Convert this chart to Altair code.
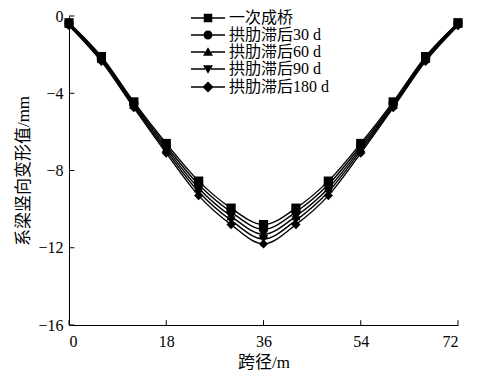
import altair as alt
import pandas as pd

span = [0, 6, 12, 18, 24, 30, 36, 42, 48, 54, 60, 66, 72]
names = ["一次成桥", "拱肋滞后30 d", "拱肋滞后60 d", "拱肋滞后90 d", "拱肋滞后180 d"]
s_once = [-0.35, -2.10, -4.45, -6.60, -8.55, -9.95, -10.80, -9.95, -8.55, -6.60, -4.45, -2.10, -0.35]
s_30 = [-0.38, -2.16, -4.52, -6.72, -8.73, -10.15, -11.05, -10.15, -8.73, -6.72, -4.52, -2.16, -0.38]
s_60 = [-0.42, -2.22, -4.60, -6.85, -8.92, -10.37, -11.30, -10.37, -8.92, -6.85, -4.60, -2.22, -0.42]
s_90 = [-0.46, -2.28, -4.68, -6.97, -9.10, -10.58, -11.55, -10.58, -9.10, -6.97, -4.68, -2.28, -0.46]
s_180 = [-0.50, -2.35, -4.75, -7.10, -9.30, -10.80, -11.80, -10.80, -9.30, -7.10, -4.75, -2.35, -0.50]
x_ticks = [0, 18, 36, 54, 72]
y_ticks = [0, -4, -8, -12, -16]

series = [s_once, s_30, s_60, s_90, s_180]
rows = []
for n, vals in zip(names, series):
    for xv, yv in zip(span, vals):
        rows.append({"span": xv, "val": yv, "series": n, "leg": n})
df = pd.DataFrame(rows)

FONT = "Liberation Serif, Times New Roman, Noto Sans CJK SC"

shapes = ["square", "circle", "triangle-up", "triangle-down", "diamond"]
line_part = "M-3.4,-0.14H-0.6V0.14H-3.4ZM0.6,-0.14H3.4V0.14H0.6Z"
leg_shapes = [
    line_part + "M-0.85,-0.85H0.85V0.85H-0.85Z",
    line_part + "M-0.9,0A0.9,0.9 0 1,1 0.9,0A0.9,0.9 0 1,1 -0.9,0Z",
    line_part + "M0,-0.95L1.0,0.75H-1.0Z",
    line_part + "M0,0.95L-1.0,-0.75H1.0Z",
    line_part + "M0,-1.1L1.1,0L0,1.1L-1.1,0Z",
]

xs = alt.Scale(domain=[0, 72], nice=False, zero=False)
ys = alt.Scale(domain=[-16, 0], nice=False, zero=False)

xax = alt.Axis(values=x_ticks, title="跨径/m", ticks=False, labelPadding=8, titlePadding=5)
yax = alt.Axis(values=y_ticks, title="系梁竖向变形值/mm", ticks=False, labelPadding=6, titlePadding=5)

base = alt.Chart(df)

lines = base.mark_line(interpolate="monotone", color="black", strokeWidth=1.4).encode(
    x=alt.X("span:Q", scale=xs, axis=xax),
    y=alt.Y("val:Q", scale=ys, axis=yax),
    detail="series:N",
)

points = base.mark_point(filled=True, color="black", opacity=1, size=85).encode(
    x="span:Q",
    y="val:Q",
    shape=alt.Shape("series:N", scale=alt.Scale(domain=names, range=shapes), legend=None),
)

legend_layer = base.mark_point(filled=True, color="black", opacity=0).encode(
    x="span:Q",
    y="val:Q",
    shape=alt.Shape(
        "leg:N",
        scale=alt.Scale(domain=names, range=leg_shapes),
        legend=alt.Legend(
            title=None,
            orient="none",
            legendX=131,
            legendY=-6,
            symbolSize=100,
            labelOffset=13,
            rowPadding=1,
            labelFont=FONT,
            labelFontSize=16,
            labelColor="black",
            labelLimit=300,
            symbolOpacity=1,
            symbolFillColor="black",
        ),
    ),
)

tick_y_df = pd.DataFrame({"t": y_ticks, "a": [0] * len(y_ticks), "b": [1.0] * len(y_ticks)})
tick_x_df = pd.DataFrame({"t": x_ticks, "a": [-16] * len(x_ticks), "b": [-15.75] * len(x_ticks)})

yticks = alt.Chart(tick_y_df).mark_rule(color="black", strokeWidth=1).encode(
    y="t:Q", x="a:Q", x2="b:Q"
)
xticks = alt.Chart(tick_x_df).mark_rule(color="black", strokeWidth=1).encode(
    x="t:Q", y="a:Q", y2="b:Q"
)

chart = (
    alt.layer(lines, points, legend_layer, yticks, xticks)
    .resolve_scale(shape="independent")
    .properties(
        width=389,
        height=309,
        background="white",
        autosize=alt.AutoSizeParams(type="none"),
        padding={"left": 61, "top": 8, "right": 14, "bottom": 48},
    )
    .configure_view(stroke=None)
    .configure_axis(
        labelFont=FONT,
        labelFontSize=16,
        labelColor="black",
        titleFont=FONT,
        titleFontSize=17,
        titleFontWeight="normal",
        titleColor="black",
        domainColor="black",
        domainWidth=1,
        grid=False,
    )
)

chart.save("out.html", embed_options={"renderer": "svg", "actions": False})
